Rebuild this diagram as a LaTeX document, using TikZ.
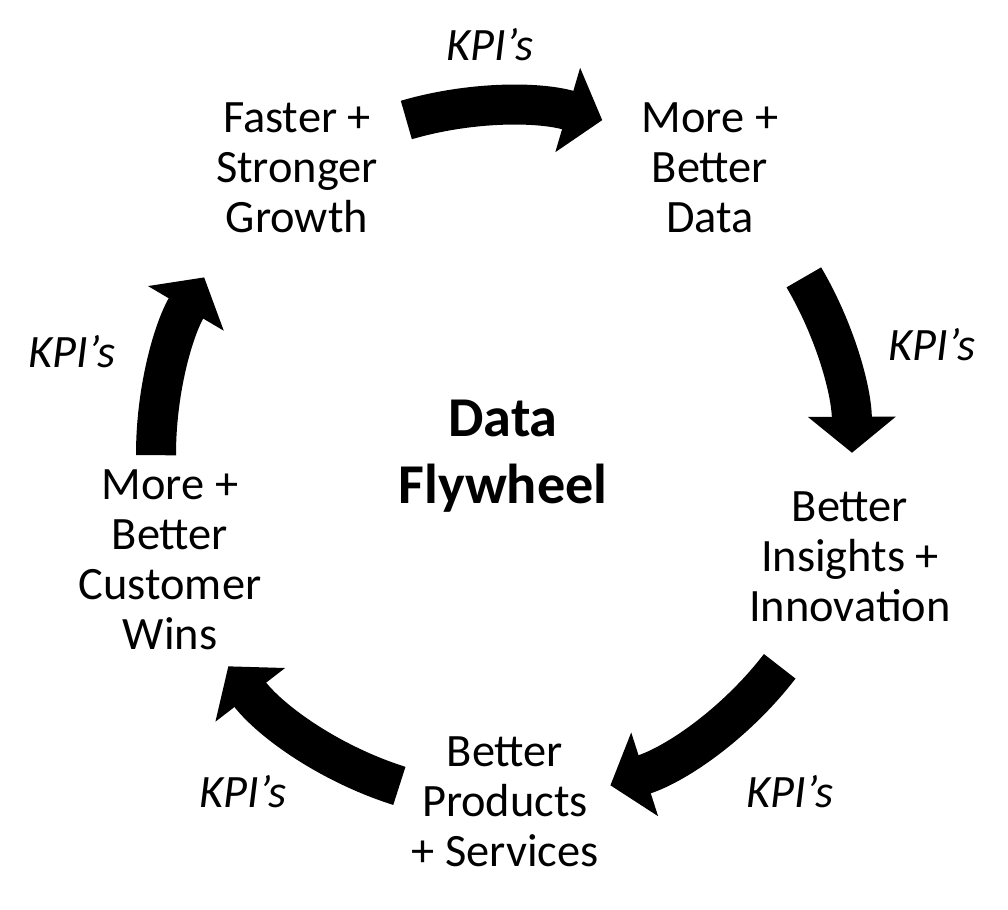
\documentclass[tikz,border=0pt]{standalone}
\usepackage{fontspec}
\setmainfont{Carlito}
\usetikzlibrary{arrows.meta, positioning}
\tikzset{
  STAGE/.style={% Style for the stages on the wheel
      align=center,
      inner sep=0pt,
      font=\fontsize{33}{35.6}\selectfont,
  },
  HUB/.style={% Style for the centre title
      align=center,
      inner sep=0pt,
      font=\fontsize{40}{47.5}\selectfont\bfseries,
  },
  KPI/.style={% Style for the KPI labels
      inner sep=0pt,
      font=\fontsize{33}{36}\selectfont\itshape,
  },
  FLOW/.style={% Style for the thick curved arrows
      line width=1cm,
      -{Triangle[width=2.15cm, length=0.9cm]},
  },
}
\begin{document}
\begin{tikzpicture}
  \useasboundingbox (0,0) rectangle (25.2,22.75);
  \coordinate (wheel) at (12.6,11.4);
  % stages
  \node[STAGE] (growth) at (7.425,18.55) {Faster +\\Stronger\\Growth};
  \node[STAGE] (data) at (17.75,18.55) {More +\\Better\\Data};
  \node[STAGE] (insights) at (21.25,8.825) {Better\\Insights +\\Innovation};
  \node[STAGE] (products) at (12.625,2.7) {Better\\Products\\+ Services};
  \node[STAGE] (wins) at (4.25,8.75) {More +\\Better\\Customer\\Wins};
  \node[HUB] (hub) at (12.575,11.35) {Data\\Flywheel};
  % KPI labels
  \node[KPI] (kpi1) at (12.25,21.625) {KPI’s};
  \node[KPI] (kpi2) at (23.3,14.125) {KPI’s};
  \node[KPI] (kpi3) at (19.75,2.95) {KPI’s};
  \node[KPI] (kpi4) at (6.075,2.95) {KPI’s};
  \node[KPI] (kpi5) at (1.8,13.95) {KPI’s};
  % arrows round the wheel
  \foreach \from/\to in {106.3/73.6, 30.5/0.2, -37.6/-72.2, -107.5/-142.4, 180.2/149.5} {%
      \draw[FLOW] ([shift={(\from:8.7)}]wheel) arc[start angle=\from, end angle=\to, radius=8.7];
  }
\end{tikzpicture}
\end{document}
